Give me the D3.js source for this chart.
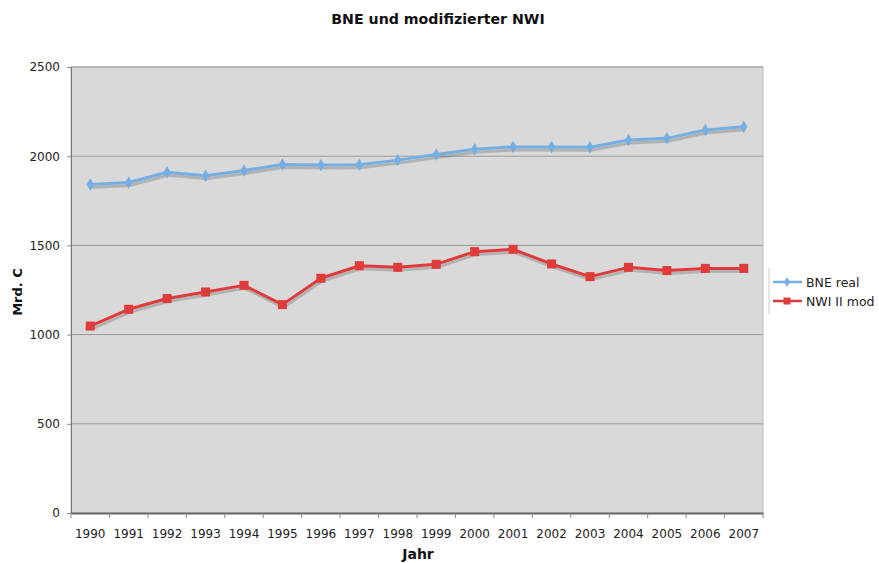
<!DOCTYPE html>
<html><head><meta charset="utf-8">
<script src="https://cdn.jsdelivr.net/npm/d3@7/dist/d3.min.js"></script>
<style>
body{margin:0;background:#fff;}
text{font-family:"DejaVu Sans",Verdana,sans-serif;}
</style></head>
<body><svg id="c" width="879" height="563"></svg>
<script>
const years = ["1990","1991","1992","1993","1994","1995","1996","1997","1998","1999","2000","2001","2002","2003","2004","2005","2006","2007"];
const bneReal = [1842,1853,1910,1891,1920,1954,1950,1952,1978,2009,2039,2052,2052,2050,2091,2100,2147,2165];
const nwiMod  = [1048,1142,1202,1239,1276,1168,1316,1386,1377,1394,1465,1478,1396,1325,1377,1359,1371,1371];
const yTicks = [0,500,1000,1500,2000,2500];
const seriesNames = ["BNE real","NWI II mod"];
const colors = ["#75aee3","#e03b3b"];

const svg = d3.select("#c");
const L=71, R=763, T=67, B=513;
const x = d3.scaleBand().domain(years).range([L,R]);
const y = d3.scaleLinear().domain([0,2500]).range([B,T]);

svg.append("rect").attr("x",L).attr("y",T).attr("width",R-L).attr("height",B-T)
  .attr("fill","#d9d9d9").attr("stroke","#bdbdbd").attr("stroke-width",1);

// gridlines
svg.append("g").selectAll("line").data(yTicks.filter(d=>d>0)).join("line")
  .attr("x1",L).attr("x2",R).attr("y1",d=>y(d)).attr("y2",d=>y(d))
  .attr("stroke","#9a9a9a").attr("stroke-width",1);

// y axis
const ya = svg.append("g").attr("transform",`translate(${L},0)`)
  .call(d3.axisLeft(y).tickValues(yTicks).tickSize(4).tickFormat(d3.format("d")));
ya.select(".domain").attr("stroke","#777");
ya.selectAll(".tick line").attr("stroke","#888");
ya.selectAll("text").attr("font-size","12px").attr("fill","#222").attr("x",-11);

// x axis
const xa = svg.append("g").attr("transform",`translate(0,${B})`)
  .call(d3.axisBottom(x).tickSize(0));
xa.select(".domain").attr("stroke","#666").attr("stroke-width",2);
xa.selectAll("text").attr("font-size","12px").attr("fill","#222").attr("y",25).attr("dy",0);
svg.append("g").selectAll("line").data(years.concat(["end"])).join("line")
  .attr("x1",(d,i)=> i<years.length ? x(d) : R).attr("x2",(d,i)=> i<years.length ? x(d) : R)
  .attr("y1",B).attr("y2",B+5).attr("stroke","#888");

const cx = d=>x(d)+x.bandwidth()/2;
const datasets=[bneReal,nwiMod];
const line = d3.line().x((d,i)=>cx(years[i])).y(d=>y(d));

// shadows
datasets.forEach((ds,k)=>{
  svg.append("path").datum(ds).attr("d",line).attr("fill","none")
    .attr("stroke","rgba(90,90,90,0.3)").attr("stroke-width",3)
    .attr("transform","translate(1,3)");
});
datasets.forEach((ds,k)=>{
  svg.append("path").datum(ds).attr("d",line).attr("fill","none")
    .attr("stroke",colors[k]).attr("stroke-width",3).attr("stroke-linejoin","round");
  const g = svg.append("g");
  if(k===0){
    g.selectAll("path").data(ds).join("path")
      .attr("d",d3.symbol(d3.symbolDiamond,45)())
      .attr("transform",(d,i)=>`translate(${cx(years[i])},${y(d)})`)
      .attr("fill",colors[k]);
  } else {
    g.selectAll("rect").data(ds).join("rect")
      .attr("x",(d,i)=>cx(years[i])-4.5).attr("y",d=>y(d)-4.5)
      .attr("width",9).attr("height",9).attr("fill",colors[k]);
  }
});

// title & axis labels
svg.append("text").attr("x",438).attr("y",24).attr("text-anchor","middle")
  .attr("font-size","14.2px").attr("font-weight","bold").attr("fill","#111").text("BNE und modifizierter NWI");
svg.append("text").attr("x",418).attr("y",559).attr("text-anchor","middle")
  .attr("font-size","14px").attr("font-weight","bold").attr("fill","#111").text("Jahr");
svg.append("text").attr("transform","translate(22,292) rotate(-90)").attr("text-anchor","middle")
  .attr("font-size","13px").attr("font-weight","bold").attr("fill","#111").text("Mrd. C");

// legend
const lg = svg.append("g");
lg.append("line").attr("x1",769).attr("x2",769).attr("y1",268).attr("y2",314).attr("stroke","#ccc");
seriesNames.forEach((n,i)=>{
  const yy = 282 + i*19;
  lg.append("line").attr("x1",773).attr("x2",802).attr("y1",yy).attr("y2",yy)
    .attr("stroke",colors[i]).attr("stroke-width",2.5);
  if(i===0) lg.append("path").attr("d",d3.symbol(d3.symbolDiamond,30)()).attr("transform",`translate(787,${yy})`).attr("fill",colors[i]);
  else lg.append("rect").attr("x",783.5).attr("y",yy-3.5).attr("width",7).attr("height",7).attr("fill",colors[i]);
  lg.append("text").attr("x",806).attr("y",yy+4.5).attr("font-size","12.5px").attr("fill","#222").text(n);
});
</script></body></html>
